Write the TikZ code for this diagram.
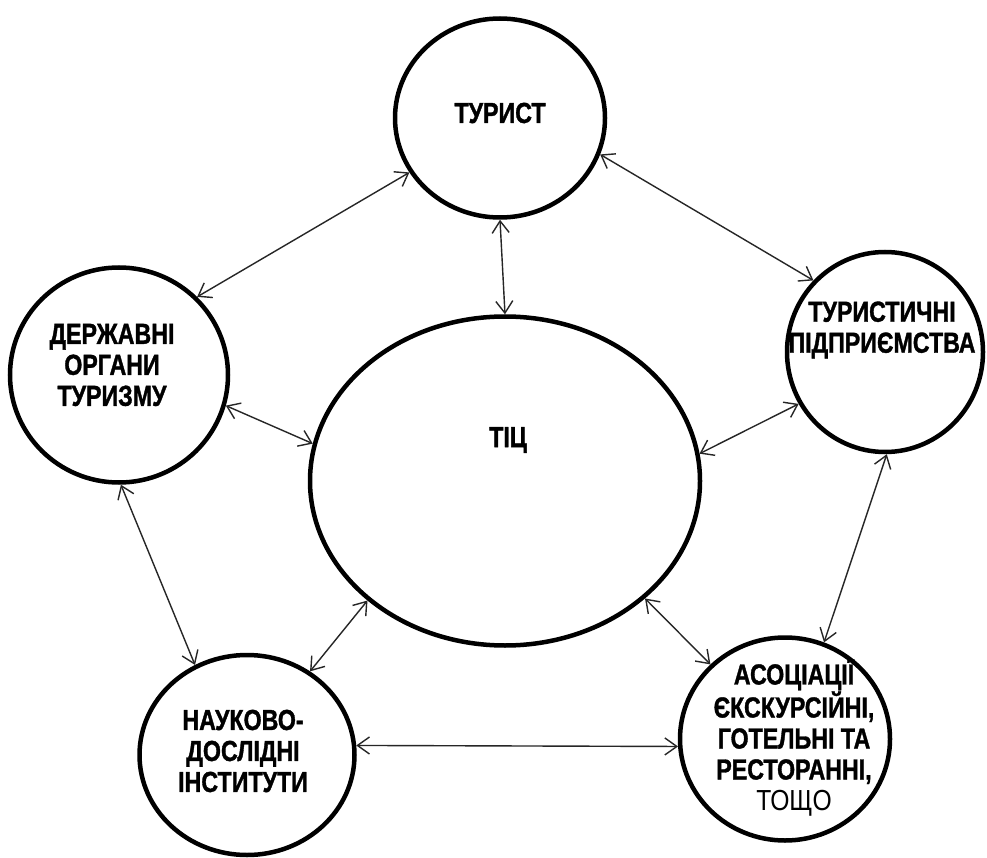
\documentclass[tikz,border=0pt]{standalone}
\usepackage{fontspec}
\setmainfont{Liberation Sans}
\newfontfamily\cond[FakeStretch=0.8,FakeBold=1.2]{Liberation Sans}
\newfontfamily\condreg[FakeStretch=0.85]{Liberation Sans}
\usetikzlibrary{shapes.geometric,arrows.meta}
\begin{document}
\begin{tikzpicture}[x=1pt,y=-1pt,
 ring/.style={draw=black,line width=4.5pt,ellipse,inner sep=0pt,fill=white},
 lbl/.style={font=\cond\bfseries\fontsize{29}{31}\selectfont,align=center,inner sep=0pt},
 link/.style={line width=1.4pt,draw=black!85,{Straight Barb[length=12pt,width=17pt]}-{Straight Barb[length=12pt,width=17pt]}}]
\useasboundingbox[fill=white] (0,0) rectangle (987,858);

\node[ring,minimum width=210pt,minimum height=199pt] (tur) at (500,118) {};
\node[ring,minimum width=218pt,minimum height=215pt] (der) at (119,375) {};
\node[ring,minimum width=196pt,minimum height=200pt] (pid) at (885,352) {};
\node[ring,minimum width=215pt,minimum height=200pt] (nau) at (247,755) {};
\node[ring,minimum width=210pt,minimum height=203pt] (aso) at (785,739) {};
\node[ring,minimum width=390pt,minimum height=329pt] (tic) at (505,481) {};

\node[lbl] (turT) at (500,113) {ТУРИСТ};
\node[lbl] (derT) at (112,365) {ДЕРЖАВНІ\\ОРГАНИ\\ТУРИЗМУ};
\node[lbl] (pidT) at (882,330) {ТУРИСТИЧНІ\\ПІДПРИЄМСТВА};
\node[lbl] (nauT) at (243,751) {НАУКОВО-\\ДОСЛІДНІ\\ІНСТИТУТИ};
\node[lbl] (asoT) at (794,738) {АСОЦІАЦІЇ\\ЄКСКУРСІЙНІ,\\ГОТЕЛЬНІ ТА\\РЕСТОРАННІ,\\{\condreg\mdseries ТОЩО}};
\node[lbl] (ticT) at (508,440) {ТІЦ};

\draw[link] (tur.211) -- (der.45);
\draw[link] (tur.340) -- (pid.135);
\draw[link] (tur.270) -- (tic.90);
\draw[link] (der.344) -- (tic.169);
\draw[link] (pid.211) -- (tic.8);
\draw[link] (pid.271) -- (aso.68);
\draw[link] (der.271) -- (nau.120);
\draw[link] (tic.221) -- (nau.53);
\draw[link] (tic.320) -- (aso.135);
\draw[link] (nau.5) -- (aso.184);
\end{tikzpicture}
\end{document}
